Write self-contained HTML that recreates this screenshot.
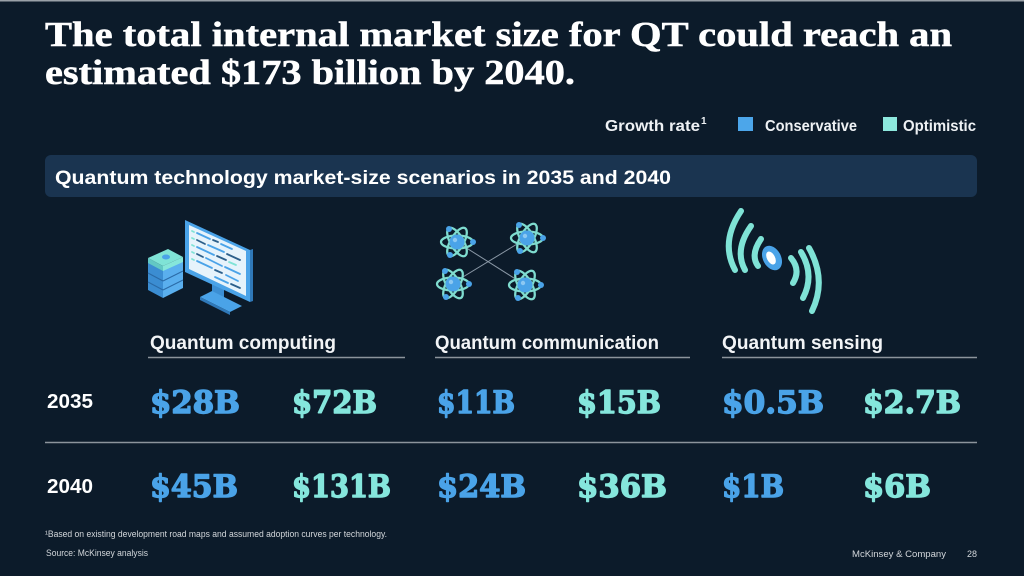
<!DOCTYPE html>
<html>
<head>
<meta charset="utf-8">
<style>
html,body{margin:0;padding:0;background:#0c1b2a;}
svg{display:block;}
.sans{font-family:"Liberation Sans",Arial,sans-serif;}
.serif{font-family:"Liberation Serif","Times New Roman",serif;}
.num{font-family:"DejaVu Serif","Liberation Serif",serif;font-weight:bold;}
</style>
</head>
<body>
<svg width="1024" height="576" viewBox="0 0 1024 576" xmlns="http://www.w3.org/2000/svg">
  <rect x="0" y="0" width="1024" height="576" fill="#0c1b2a"/>
  <rect x="0" y="0" width="1024" height="1.5" fill="#9aa1a8"/>

  <!-- Title -->
  <text class="serif" x="45" y="46" font-size="35" font-weight="bold" fill="#ffffff" stroke="#ffffff" stroke-width="0.5" textLength="907" lengthAdjust="spacingAndGlyphs">The total internal market size for QT could reach an</text>
  <text class="serif" x="45" y="84" font-size="35" font-weight="bold" fill="#ffffff" stroke="#ffffff" stroke-width="0.5" textLength="530" lengthAdjust="spacingAndGlyphs">estimated $173 billion by 2040.</text>

  <!-- Legend -->
  <text class="sans" x="605" y="131" font-size="16" font-weight="bold" fill="#eef1f4" textLength="95" lengthAdjust="spacingAndGlyphs">Growth rate</text>
  <text class="sans" x="701" y="124" font-size="10" font-weight="bold" fill="#eef1f4">1</text>
  <rect x="738" y="117" width="15" height="14" fill="#4ca6ea"/>
  <text class="sans" x="765" y="131" font-size="16" font-weight="bold" fill="#eef1f4" textLength="92" lengthAdjust="spacingAndGlyphs">Conservative</text>
  <rect x="883" y="117" width="14" height="14" fill="#8de8dd"/>
  <text class="sans" x="903" y="131" font-size="16" font-weight="bold" fill="#eef1f4" textLength="73" lengthAdjust="spacingAndGlyphs">Optimistic</text>

  <!-- Banner -->
  <rect x="45" y="155" width="932" height="42" rx="6" ry="6" fill="#1a3450"/>
  <text class="sans" x="55" y="184" font-size="19" font-weight="bold" fill="#ffffff" textLength="616" lengthAdjust="spacingAndGlyphs">Quantum technology market-size scenarios in 2035 and 2040</text>

  <!-- Computing icon -->
  <g>
    <polygon points="212,280 224,286 224,300 212,294" fill="#3c8fd4"/>
    <polygon points="200,297 212,291 242,306 230,312" fill="#4aa3e8"/>
    <polygon points="200,297 230,312 230,315 200,300" fill="#2f78b8"/>
    <polygon points="185,220 250,250 250,302 185,272" fill="#4aa3e8"/>
    <polygon points="250,250 253,249 253,301 250,302" fill="#2f78b8"/>
    <polygon points="189,225 246,251 246,296 189,269" fill="#e6f3fb"/>
    <g stroke-width="1.8" stroke-linecap="round">
      <line x1="192" y1="231" x2="194" y2="232" stroke="#7fe3d6"/>
      <line x1="197" y1="233" x2="210" y2="239" stroke="#4aa3e8"/>
      <line x1="213" y1="240" x2="218" y2="242" stroke="#2c5f8a"/>
      <line x1="221" y1="244" x2="232" y2="249" stroke="#4aa3e8"/>
      <line x1="192" y1="238" x2="194" y2="239" stroke="#7fe3d6"/>
      <line x1="197" y1="240" x2="205" y2="244" stroke="#2c5f8a"/>
      <line x1="208" y1="245" x2="224" y2="252" stroke="#4aa3e8"/>
      <line x1="227" y1="254" x2="240" y2="260" stroke="#2c5f8a"/>
      <line x1="192" y1="245" x2="194" y2="246" stroke="#7fe3d6"/>
      <line x1="197" y1="247" x2="214" y2="255" stroke="#4aa3e8"/>
      <line x1="217" y1="256" x2="226" y2="260" stroke="#2c5f8a"/>
      <line x1="229" y1="262" x2="236" y2="265" stroke="#7fe3d6"/>
      <line x1="192" y1="252" x2="194" y2="253" stroke="#7fe3d6"/>
      <line x1="197" y1="254" x2="203" y2="257" stroke="#2c5f8a"/>
      <line x1="206" y1="258" x2="222" y2="266" stroke="#4aa3e8"/>
      <line x1="225" y1="267" x2="240" y2="274" stroke="#4aa3e8"/>
      <line x1="192" y1="259" x2="194" y2="260" stroke="#7fe3d6"/>
      <line x1="197" y1="261" x2="212" y2="268" stroke="#4aa3e8"/>
      <line x1="215" y1="270" x2="222" y2="273" stroke="#2c5f8a"/>
      <line x1="226" y1="275" x2="238" y2="281" stroke="#4aa3e8"/>
      <line x1="215" y1="277" x2="228" y2="283" stroke="#4aa3e8"/>
      <line x1="231" y1="284" x2="240" y2="288" stroke="#2c5f8a"/>
    </g>
    <polygon points="148,260 163,268 163,298 148,290" fill="#3b8dd2"/>
    <polygon points="163,268 183,258 183,288 163,298" fill="#5aafee"/>
    <polygon points="148,258 168,249 183,257 163,266" fill="#7fe3d6"/>
    <polygon points="148,258 163,266 163,271 148,263" fill="#62c8c4"/>
    <polygon points="163,266 183,257 183,262 163,271" fill="#86e6da"/>
    <ellipse cx="166" cy="257" rx="4" ry="2.5" fill="#4aa3e8"/>
    <line x1="148" y1="273" x2="163" y2="281" stroke="#2a6aa6" stroke-width="1"/>
    <line x1="163" y1="281" x2="183" y2="271" stroke="#2a6aa6" stroke-width="1"/>
    <line x1="148" y1="282" x2="163" y2="290" stroke="#2a6aa6" stroke-width="1"/>
    <line x1="163" y1="290" x2="183" y2="280" stroke="#2a6aa6" stroke-width="1"/>
  </g>

  <!-- Communication icon -->
  <g>
    <line x1="457" y1="242" x2="525" y2="285" stroke="#8a98a6" stroke-width="1"/>
    <line x1="527" y1="238" x2="453" y2="283" stroke="#8a98a6" stroke-width="1"/>
    <g transform="translate(457,242)">
      <g fill="none" stroke="#7fdccf" stroke-width="2.3">
        <ellipse rx="16" ry="6.5"/>
        <ellipse rx="16" ry="6.5" transform="rotate(60)"/>
        <ellipse rx="16" ry="6.5" transform="rotate(120)"/>
      </g>
      <circle r="7.5" fill="#4aa3e8"/>
      <circle cx="-2" cy="-2" r="2.2" fill="#8cc8f2"/>
      <circle cx="-8" cy="-13" r="3" fill="#4aa3e8"/>
      <circle cx="16" cy="0" r="3" fill="#4aa3e8"/>
      <circle cx="-7" cy="13" r="3" fill="#4aa3e8"/>
    </g>
    <g transform="translate(527,238)">
      <g fill="none" stroke="#7fdccf" stroke-width="2.3">
        <ellipse rx="16" ry="6.5"/>
        <ellipse rx="16" ry="6.5" transform="rotate(60)"/>
        <ellipse rx="16" ry="6.5" transform="rotate(120)"/>
      </g>
      <circle r="7.5" fill="#4aa3e8"/>
      <circle cx="-2" cy="-2" r="2.2" fill="#8cc8f2"/>
      <circle cx="-8" cy="-13" r="3" fill="#4aa3e8"/>
      <circle cx="16" cy="0" r="3" fill="#4aa3e8"/>
      <circle cx="-7" cy="13" r="3" fill="#4aa3e8"/>
    </g>
    <g transform="translate(453,284)">
      <g fill="none" stroke="#7fdccf" stroke-width="2.3">
        <ellipse rx="16" ry="6.5"/>
        <ellipse rx="16" ry="6.5" transform="rotate(60)"/>
        <ellipse rx="16" ry="6.5" transform="rotate(120)"/>
      </g>
      <circle r="7.5" fill="#4aa3e8"/>
      <circle cx="-2" cy="-2" r="2.2" fill="#8cc8f2"/>
      <circle cx="-8" cy="-13" r="3" fill="#4aa3e8"/>
      <circle cx="16" cy="0" r="3" fill="#4aa3e8"/>
      <circle cx="-7" cy="13" r="3" fill="#4aa3e8"/>
    </g>
    <g transform="translate(525,285)">
      <g fill="none" stroke="#7fdccf" stroke-width="2.3">
        <ellipse rx="16" ry="6.5"/>
        <ellipse rx="16" ry="6.5" transform="rotate(60)"/>
        <ellipse rx="16" ry="6.5" transform="rotate(120)"/>
      </g>
      <circle r="7.5" fill="#4aa3e8"/>
      <circle cx="-2" cy="-2" r="2.2" fill="#8cc8f2"/>
      <circle cx="-8" cy="-13" r="3" fill="#4aa3e8"/>
      <circle cx="16" cy="0" r="3" fill="#4aa3e8"/>
      <circle cx="-7" cy="13" r="3" fill="#4aa3e8"/>
    </g>
  </g>

  <!-- Sensing icon -->
  <g fill="none" stroke="#7fe3d6" stroke-width="6" stroke-linecap="round">
    <path d="M741,211 Q720,242 735,270"/>
    <path d="M751,226 Q734,250 745,270"/>
    <path d="M761,239 Q750,255 758,266"/>
    <path d="M791,258 Q801,270 793,283"/>
    <path d="M801,252 Q815,275 803,298"/>
    <path d="M809,248 Q827,280 812,311"/>
  </g>
  <ellipse cx="772" cy="258" rx="9" ry="13" transform="rotate(-28 772 258)" fill="#4aa3e8"/>
  <ellipse cx="771" cy="258" rx="4" ry="7" transform="rotate(-28 771 258)" fill="#ffffff"/>

  <!-- Column headings -->
  <text class="sans" x="150" y="349" font-size="19" font-weight="bold" fill="#f2f4f6" textLength="186" lengthAdjust="spacingAndGlyphs">Quantum computing</text>
  <text class="sans" x="435" y="349" font-size="19" font-weight="bold" fill="#f2f4f6" textLength="224" lengthAdjust="spacingAndGlyphs">Quantum communication</text>
  <text class="sans" x="722" y="349" font-size="19" font-weight="bold" fill="#f2f4f6" textLength="161" lengthAdjust="spacingAndGlyphs">Quantum sensing</text>
  <g stroke="#8c949c" stroke-width="1.5">
    <line x1="148" y1="357.5" x2="405" y2="357.5"/>
    <line x1="435" y1="357.5" x2="690" y2="357.5"/>
    <line x1="722" y1="357.5" x2="977" y2="357.5"/>
    <line x1="45" y1="442.5" x2="977" y2="442.5"/>
  </g>

  <!-- Row labels -->
  <text class="sans" x="47" y="408" font-size="20" font-weight="bold" fill="#ffffff" textLength="46" lengthAdjust="spacingAndGlyphs">2035</text>
  <text class="sans" x="47" y="493" font-size="20" font-weight="bold" fill="#ffffff" textLength="46" lengthAdjust="spacingAndGlyphs">2040</text>

  <!-- Values 2035 -->
  <g class="num" font-size="31" stroke-width="1.4" stroke-linejoin="round">
    <text x="150" y="413" fill="#4aa3e8" stroke="#4aa3e8" textLength="90" lengthAdjust="spacingAndGlyphs">$28B</text>
    <text x="292" y="413" fill="#85e6dc" stroke="#85e6dc" textLength="85" lengthAdjust="spacingAndGlyphs">$72B</text>
    <text x="437" y="413" fill="#4aa3e8" stroke="#4aa3e8" textLength="78" lengthAdjust="spacingAndGlyphs">$11B</text>
    <text x="577" y="413" fill="#85e6dc" stroke="#85e6dc" textLength="84" lengthAdjust="spacingAndGlyphs">$15B</text>
    <text x="722" y="413" fill="#4aa3e8" stroke="#4aa3e8" textLength="102" lengthAdjust="spacingAndGlyphs">$0.5B</text>
    <text x="863" y="413" fill="#85e6dc" stroke="#85e6dc" textLength="98" lengthAdjust="spacingAndGlyphs">$2.7B</text>

    <text x="150" y="497" fill="#4aa3e8" stroke="#4aa3e8" textLength="88" lengthAdjust="spacingAndGlyphs">$45B</text>
    <text x="292" y="497" fill="#85e6dc" stroke="#85e6dc" textLength="99" lengthAdjust="spacingAndGlyphs">$131B</text>
    <text x="437" y="497" fill="#4aa3e8" stroke="#4aa3e8" textLength="89" lengthAdjust="spacingAndGlyphs">$24B</text>
    <text x="577" y="497" fill="#85e6dc" stroke="#85e6dc" textLength="90" lengthAdjust="spacingAndGlyphs">$36B</text>
    <text x="722" y="497" fill="#4aa3e8" stroke="#4aa3e8" textLength="62" lengthAdjust="spacingAndGlyphs">$1B</text>
    <text x="863" y="497" fill="#85e6dc" stroke="#85e6dc" textLength="68" lengthAdjust="spacingAndGlyphs">$6B</text>
  </g>

  <!-- Footnotes -->
  <text class="sans" x="45" y="537" font-size="9" fill="#d3d7db" textLength="342" lengthAdjust="spacingAndGlyphs">¹Based on existing development road maps and assumed adoption curves per technology.</text>
  <text class="sans" x="46" y="556" font-size="9" fill="#d3d7db" textLength="102" lengthAdjust="spacingAndGlyphs">Source: McKinsey analysis</text>
  <text class="sans" x="852" y="557" font-size="9.5" fill="#d3d7db" textLength="94" lengthAdjust="spacingAndGlyphs">McKinsey &amp; Company</text>
  <text class="sans" x="967" y="557" font-size="9.5" fill="#d3d7db" textLength="10" lengthAdjust="spacingAndGlyphs">28</text>
</svg>
</body>
</html>
